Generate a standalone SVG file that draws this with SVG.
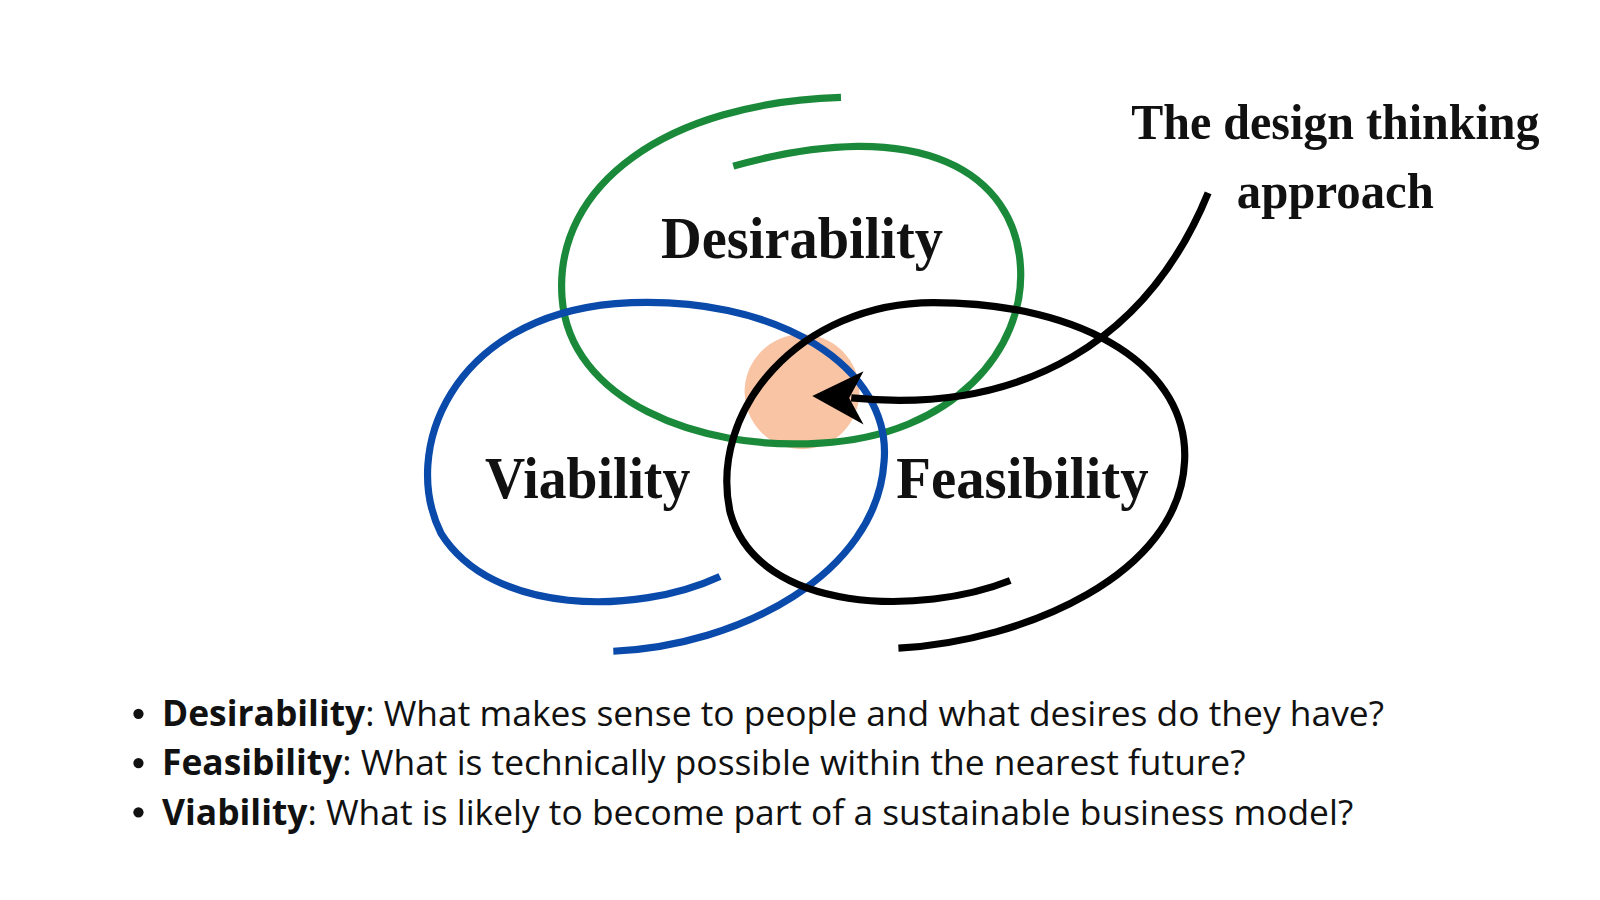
<svg xmlns="http://www.w3.org/2000/svg" width="1600" height="900" viewBox="0 0 1600 900">
<style>
.t{font-family:"Liberation Serif",serif;font-weight:bold;fill:#111;text-anchor:middle}
.b{font-family:"Open Sans","Liberation Sans",sans-serif;font-size:34.5px;fill:#111}
.r{fill:none;stroke-width:7;stroke-linecap:butt}
</style>
<rect width="1600" height="900" fill="#fff"/>
<g transform="scale(1.0256)">
<g id="core"><circle cx="782" cy="382" r="56" fill="#f8c4a4"/></g>
<g id="connectors">
<path class="r" stroke="#1a8a3a" d="M 820,95 C 650,100 540,180 548,290 C 555,390 680,440 800,432 C 930,425 1000,340 995,260 C 990,170 900,110 715,162"/>
<path class="r" stroke="#0a4aab" d="M 702,562 C 620,600 480,600 430,520 C 390,440 440,310 600,296 C 760,285 870,360 862,450 C 855,560 720,630 598,635"/>
<path class="r" stroke="#000" d="M 985,566 C 900,600 740,600 712,500 C 690,400 780,295 910,295 C 1060,295 1160,360 1155,450 C 1150,560 1000,625 876,632"/>
<path fill="none" stroke="#000" stroke-width="7" d="M 1178,188 C 1120,330 1000,405 830,388"/>
<path d="M 792,386 L 842,362 L 828,388 L 842,414 Z" fill="#000"/>
</g>
<g id="desirability"><text class="t" x="782" y="252" font-size="58" textLength="275" lengthAdjust="spacingAndGlyphs">Desirability</text></g>
<g id="viability"><text class="t" x="573" y="486" font-size="58" textLength="200" lengthAdjust="spacingAndGlyphs">Viability</text></g>
<g id="feasibility"><text class="t" x="997" y="486" font-size="58" textLength="246" lengthAdjust="spacingAndGlyphs">Feasibility</text></g>
<g id="title"><text class="t" x="1302" y="136" font-size="50" textLength="398" lengthAdjust="spacingAndGlyphs">The design thinking</text>
<text class="t" x="1302" y="203" font-size="50" textLength="192" lengthAdjust="spacingAndGlyphs">approach</text></g>
<g id="legend">
<circle cx="135" cy="696" r="5" fill="#111"/><circle cx="135" cy="744" r="5" fill="#111"/><circle cx="135" cy="792" r="5" fill="#111"/>
<text class="b" x="158" y="708"><tspan font-weight="bold">Desirability</tspan>: What makes sense to people and what desires do they have?</text>
<text class="b" x="158" y="756"><tspan font-weight="bold">Feasibility</tspan>: What is technically possible within the nearest future?</text>
<text class="b" x="158" y="804"><tspan font-weight="bold">Viability</tspan>: What is likely to become part of a sustainable business model?</text>
</g>
</g>
</svg>
